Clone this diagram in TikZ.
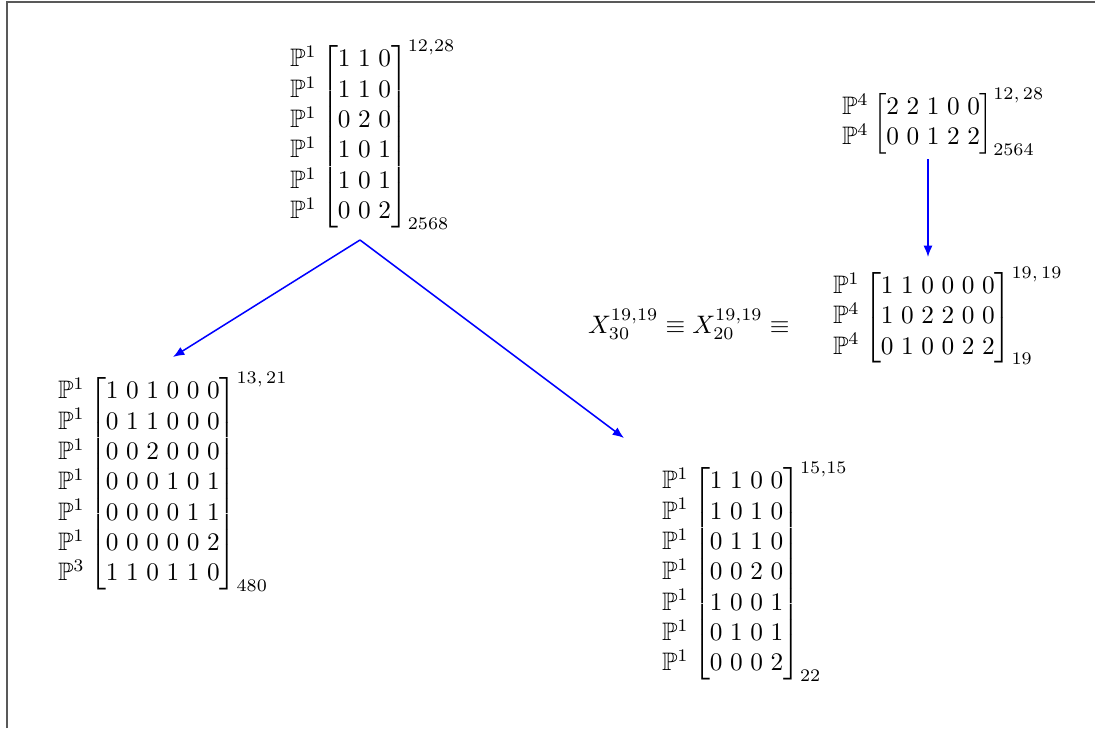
\documentclass[tikz,border=0pt]{standalone}
\usepackage{amsmath,amssymb}
\usetikzlibrary{arrows.meta}
\setlength{\arraycolsep}{1.5pt}
\tikzset{
  mat/.style={inner sep=0pt, outer sep=0pt, anchor=base west},
  link/.style={blue, line width=0.6pt, -{Latex[length=4.5pt,width=3.6pt]}},
  frame/.style={draw=black!65, line width=0.6pt}
}
\begin{document}
\begin{tikzpicture}[x=0.39526pt,y=-0.39526pt]
\useasboundingbox (0,0) rectangle (1095,728);
\draw[frame] (7,728) -- (7,2) -- (1095,2);

\node[mat] (A) at (290,143) {$\begin{matrix}\mathbb{P}^1\\ \mathbb{P}^1\\ \mathbb{P}^1\\ \mathbb{P}^1\\ \mathbb{P}^1\\ \mathbb{P}^1\end{matrix}\begin{bmatrix}1&1&0\\1&1&0\\0&2&0\\1&0&1\\1&0&1\\0&0&2\end{bmatrix}^{12,28}_{2568}$};

\node[mat] (B) at (58,490) {$\begin{matrix}\mathbb{P}^1\\ \mathbb{P}^1\\ \mathbb{P}^1\\ \mathbb{P}^1\\ \mathbb{P}^1\\ \mathbb{P}^1\\ \mathbb{P}^3\end{matrix}\begin{bmatrix}1&0&1&0&0&0\\0&1&1&0&0&0\\0&0&2&0&0&0\\0&0&0&1&0&1\\0&0&0&0&1&1\\0&0&0&0&0&2\\1&1&0&1&1&0\end{bmatrix}^{13,\,21}_{480}$};

\node[mat] (C) at (662,580) {$\begin{matrix}\mathbb{P}^1\\ \mathbb{P}^1\\ \mathbb{P}^1\\ \mathbb{P}^1\\ \mathbb{P}^1\\ \mathbb{P}^1\\ \mathbb{P}^1\end{matrix}\begin{bmatrix}1&1&0&0\\1&0&1&0\\0&1&1&0\\0&0&2&0\\1&0&0&1\\0&1&0&1\\0&0&0&2\end{bmatrix}^{15,15}_{22}$};

\node[mat] (D) at (842,130) {$\begin{matrix}\mathbb{P}^4\\ \mathbb{P}^4\end{matrix}\begin{bmatrix}2&2&1&0&0\\0&0&1&2&2\end{bmatrix}^{12,\,28}_{2564}$};

\node[mat] (E) at (833,324) {$\begin{matrix}\mathbb{P}^1\\ \mathbb{P}^4\\ \mathbb{P}^4\end{matrix}\begin{bmatrix}1&1&0&0&0&0\\1&0&2&2&0&0\\0&1&0&0&2&2\end{bmatrix}^{19,\,19}_{19}$};

\node[mat] (X) at (588,333) {$X_{30}^{19,19}\equiv X_{20}^{19,19}\equiv$};

\coordinate (apex) at (360,240);
\coordinate (tipB) at (173,357);
\coordinate (tipC) at (624,438);
\coordinate (Dout) at (928,159);
\coordinate (Ein) at (928,257);
\draw[link] (apex) -- (tipB);
\draw[link] (apex) -- (tipC);
\draw[link] (Dout) -- (Ein);
\end{tikzpicture}
\end{document}
